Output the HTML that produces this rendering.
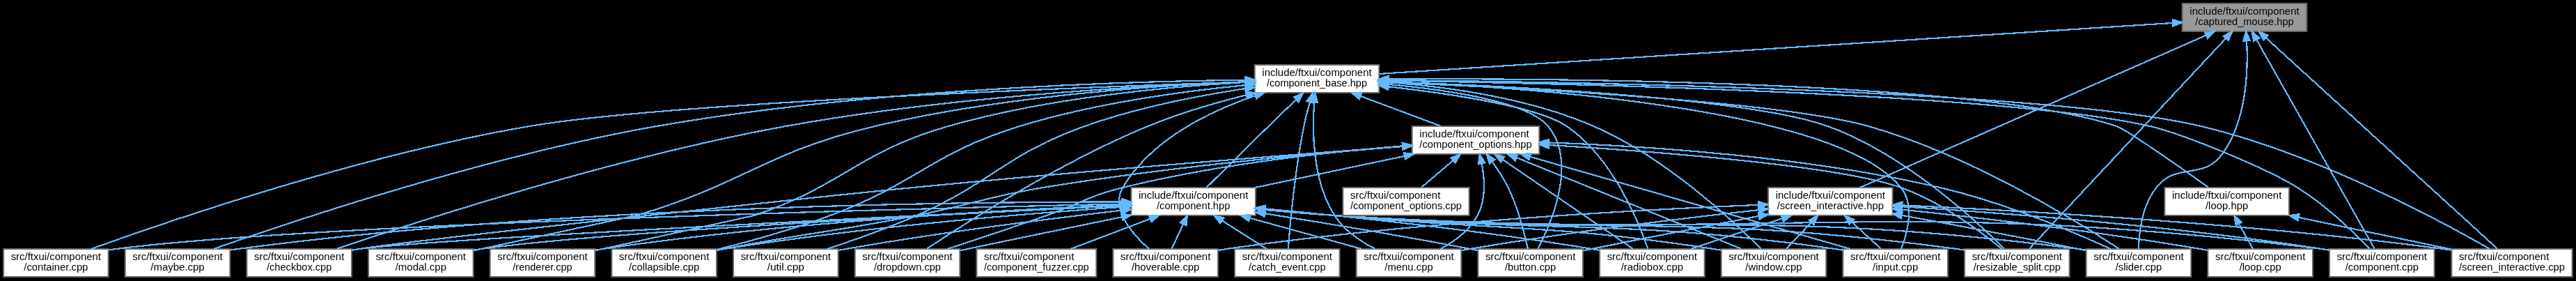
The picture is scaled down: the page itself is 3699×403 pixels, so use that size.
<!DOCTYPE html>
<html><head><meta charset="utf-8"><style>
html,body{margin:0;padding:0;background:#000;width:3699px;height:403px;overflow:hidden}
svg{display:block}
.e{fill:none;stroke:#63b8ff;stroke-width:1.65;shape-rendering:crispEdges}
.a{fill:#63b8ff;stroke:#63b8ff;stroke-width:1.65;shape-rendering:crispEdges}
.n{fill:#fff;stroke:#666;stroke-width:1.5}
.r{fill:#999;stroke:#666;stroke-width:1.5}
text{font-family:"Liberation Sans",sans-serif;font-size:10.7px;fill:#000}
svg{will-change:transform}
</style></head><body>
<svg width="3699" height="403" viewBox="0 0 3699 403">
<rect x="0" y="0" width="3699" height="403" fill="#000"/>
<g transform="translate(-0.333,-0.333) scale(1.333333) translate(4,298)">
<rect x="2346.5" y="-294" width="134" height="30" class="r"/>
<text x="2354.5" y="-282" text-anchor="start" textLength="118" lengthAdjust="spacingAndGlyphs">include/ftxui/component</text>
<text x="2413.5" y="-271" text-anchor="middle" textLength="106" lengthAdjust="spacingAndGlyphs">/captured_mouse.hpp</text>
<rect x="1347.5" y="-228" width="134" height="30" class="n"/>
<text x="1355.5" y="-216" text-anchor="start" textLength="118" lengthAdjust="spacingAndGlyphs">include/ftxui/component</text>
<text x="1414.5" y="-205" text-anchor="middle" textLength="108" lengthAdjust="spacingAndGlyphs">/component_base.hpp</text>
<path d="M2336.24,-273.05C2146.52,-260.9 1660.27,-229.75 1481.63,-218.3" class="e"/>
<polygon points="2336.2,-276.55 2346.4,-273.7 2336.65,-269.57 2336.2,-276.55" class="a"/>
<rect x="2505" y="-30" width="113" height="30" class="n"/>
<text x="2513" y="-18" text-anchor="start" textLength="97" lengthAdjust="spacingAndGlyphs">src/ftxui/component</text>
<text x="2561.5" y="-7" text-anchor="middle" textLength="79" lengthAdjust="spacingAndGlyphs">/component.cpp</text>
<path d="M2426.52,-254.96C2456.41,-202.04 2529.26,-73.08 2553.5,-30.16" class="e"/>
<polygon points="2423.33,-253.49 2421.46,-263.91 2429.42,-256.93 2423.33,-253.49" class="a"/>
<rect x="2112" y="-30" width="113" height="30" class="n"/>
<text x="2120" y="-18" text-anchor="start" textLength="97" lengthAdjust="spacingAndGlyphs">src/ftxui/component</text>
<text x="2168.5" y="-7" text-anchor="middle" textLength="94" lengthAdjust="spacingAndGlyphs">/resizable_split.cpp</text>
<path d="M2393.47,-256.58C2344.98,-204.72 2222.29,-73.52 2181.74,-30.16" class="e"/>
<polygon points="2390.94,-259 2400.33,-263.91 2396.05,-254.22 2390.94,-259" class="a"/>
<rect x="2243" y="-30" width="113" height="30" class="n"/>
<text x="2251" y="-18" text-anchor="start" textLength="97" lengthAdjust="spacingAndGlyphs">src/ftxui/component</text>
<text x="2299.5" y="-7" text-anchor="middle" textLength="50" lengthAdjust="spacingAndGlyphs">/slider.cpp</text>
<path d="M2415.81,-253.99C2417.52,-222.82 2415.98,-168.15 2389.5,-132 2368.59,-103.46 2340.4,-123.79 2318.5,-96 2303.39,-76.83 2299.99,-47.57 2299.4,-30.26" class="e"/>
<polygon points="2412.32,-253.74 2415.1,-263.96 2419.3,-254.24 2412.32,-253.74" class="a"/>
<rect x="2636.5" y="-30" width="130" height="30" class="n"/>
<text x="2644.5" y="-18" text-anchor="start" textLength="97" lengthAdjust="spacingAndGlyphs">src/ftxui/component</text>
<text x="2701.5" y="-7" text-anchor="middle" textLength="114" lengthAdjust="spacingAndGlyphs">/screen_interactive.cpp</text>
<path d="M2436.7,-256.9C2493.46,-205.26 2638.17,-73.61 2685.94,-30.16" class="e"/>
<polygon points="2434.03,-254.6 2428.98,-263.91 2438.74,-259.77 2434.03,-254.6" class="a"/>
<rect x="1900.5" y="-96" width="134" height="30" class="n"/>
<text x="1908.5" y="-84" text-anchor="start" textLength="118" lengthAdjust="spacingAndGlyphs">include/ftxui/component</text>
<text x="1967.5" y="-73" text-anchor="middle" textLength="115" lengthAdjust="spacingAndGlyphs">/screen_interactive.hpp</text>
<path d="M2372.27,-259.88C2284.11,-221.14 2078.89,-130.95 1999.58,-96.1" class="e"/>
<polygon points="2370.86,-263.09 2381.42,-263.9 2373.68,-256.68 2370.86,-263.09" class="a"/>
<rect x="1214.5" y="-96" width="134" height="30" class="n"/>
<text x="1222.5" y="-84" text-anchor="start" textLength="118" lengthAdjust="spacingAndGlyphs">include/ftxui/component</text>
<text x="1281.5" y="-73" text-anchor="middle" textLength="79" lengthAdjust="spacingAndGlyphs">/component.hpp</text>
<path d="M1392.12,-190.61C1382.92,-181.78 1372.17,-171.42 1362.5,-162 1339,-139.1 1311.92,-112.26 1295.78,-96.22" class="e"/>
<polygon points="1389.79,-193.22 1399.43,-197.61 1394.63,-188.17 1389.79,-193.22" class="a"/>
<rect x="1588" y="-30" width="113" height="30" class="n"/>
<text x="1596" y="-18" text-anchor="start" textLength="97" lengthAdjust="spacingAndGlyphs">src/ftxui/component</text>
<text x="1644.5" y="-7" text-anchor="middle" textLength="55" lengthAdjust="spacingAndGlyphs">/button.cpp</text>
<path d="M1491.93,-206.97C1556.76,-200.95 1642.05,-188.18 1663.5,-162 1695.09,-123.44 1667.53,-58.91 1652.6,-30.35" class="e"/>
<polygon points="1491.36,-203.5 1481.71,-207.88 1491.98,-210.48 1491.36,-203.5" class="a"/>
<rect x="1326" y="-30" width="113" height="30" class="n"/>
<text x="1334" y="-18" text-anchor="start" textLength="97" lengthAdjust="spacingAndGlyphs">src/ftxui/component</text>
<text x="1382.5" y="-7" text-anchor="middle" textLength="83" lengthAdjust="spacingAndGlyphs">/catch_event.cpp</text>
<path d="M1407,-188.03C1404.65,-179.83 1402.22,-170.58 1400.5,-162 1390.91,-114.17 1385.61,-56.44 1383.54,-30.21" class="e"/>
<polygon points="1403.67,-189.11 1409.88,-197.7 1410.38,-187.12 1403.67,-189.11" class="a"/>
<rect x="262" y="-30" width="113" height="30" class="n"/>
<text x="270" y="-18" text-anchor="start" textLength="97" lengthAdjust="spacingAndGlyphs">src/ftxui/component</text>
<text x="318.5" y="-7" text-anchor="middle" textLength="70" lengthAdjust="spacingAndGlyphs">/checkbox.cpp</text>
<path d="M1337.43,-209.77C1227,-205.56 1017.75,-193.79 842.5,-162 658.75,-128.66 446.21,-59.71 359,-30.06" class="e"/>
<polygon points="1337.35,-213.27 1347.48,-210.14 1337.61,-206.28 1337.35,-213.27" class="a"/>
<rect x="655" y="-30" width="113" height="30" class="n"/>
<text x="663" y="-18" text-anchor="start" textLength="97" lengthAdjust="spacingAndGlyphs">src/ftxui/component</text>
<text x="711.5" y="-7" text-anchor="middle" textLength="76" lengthAdjust="spacingAndGlyphs">/collapsible.cpp</text>
<path d="M1337.1,-206.12C1271.42,-199.67 1175.26,-186.75 1094.5,-162 998.7,-132.63 984.42,-100.93 890.5,-66 850.43,-51.09 803.89,-38.22 768.31,-29.28" class="e"/>
<polygon points="1337.09,-209.64 1347.38,-207.1 1337.75,-202.67 1337.09,-209.64" class="a"/>
<path d="M1491.65,-211.03C1679.48,-208.13 2156.5,-197.41 2311.5,-162 2348.8,-153.48 2438.03,-116.23 2470.5,-96 2501.21,-76.86 2531.73,-47.33 2548.45,-30.01" class="e"/>
<polygon points="1491.52,-207.53 1481.57,-211.18 1491.63,-214.53 1491.52,-207.53" class="a"/>
<rect x="0" y="-30" width="113" height="30" class="n"/>
<text x="8" y="-18" text-anchor="start" textLength="97" lengthAdjust="spacingAndGlyphs">src/ftxui/component</text>
<text x="56.5" y="-7" text-anchor="middle" textLength="69" lengthAdjust="spacingAndGlyphs">/container.cpp</text>
<path d="M1337.03,-209.61C1156.77,-203.7 713.39,-187.04 566.5,-162 386.06,-131.24 178.39,-60.24 94.54,-30.02" class="e"/>
<polygon points="1337.12,-213.12 1347.23,-209.94 1337.35,-206.12 1337.12,-213.12" class="a"/>
<rect x="917" y="-30" width="113" height="30" class="n"/>
<text x="925" y="-18" text-anchor="start" textLength="97" lengthAdjust="spacingAndGlyphs">src/ftxui/component</text>
<text x="973.5" y="-7" text-anchor="middle" textLength="72" lengthAdjust="spacingAndGlyphs">/dropdown.cpp</text>
<path d="M1338.26,-195.49C1305.14,-187.19 1266.27,-175.91 1232.5,-162 1139.19,-123.57 1037.35,-58.69 994.43,-30.17" class="e"/>
<polygon points="1337.8,-198.98 1348.35,-197.97 1339.47,-192.18 1337.8,-198.98" class="a"/>
<rect x="1195" y="-30" width="113" height="30" class="n"/>
<text x="1203" y="-18" text-anchor="start" textLength="97" lengthAdjust="spacingAndGlyphs">src/ftxui/component</text>
<text x="1251.5" y="-7" text-anchor="middle" textLength="73" lengthAdjust="spacingAndGlyphs">/hoverable.cpp</text>
<path d="M1348.23,-194.84C1299.29,-178.31 1236.09,-147.97 1205.5,-96 1192.01,-73.08 1215.36,-46.25 1233.44,-30.21" class="e"/>
<polygon points="1347.22,-198.19 1357.81,-197.96 1349.39,-191.54 1347.22,-198.19" class="a"/>
<rect x="1981" y="-30" width="113" height="30" class="n"/>
<text x="1989" y="-18" text-anchor="start" textLength="97" lengthAdjust="spacingAndGlyphs">src/ftxui/component</text>
<text x="2037.5" y="-7" text-anchor="middle" textLength="49" lengthAdjust="spacingAndGlyphs">/input.cpp</text>
<path d="M1491.92,-209.84C1644.64,-203.75 1975.79,-180.85 2043.5,-96 2058.44,-77.28 2050.6,-47.6 2043.84,-30.14" class="e"/>
<polygon points="1491.54,-206.35 1481.68,-210.24 1491.81,-213.35 1491.54,-206.35" class="a"/>
<rect x="131" y="-30" width="113" height="30" class="n"/>
<text x="139" y="-18" text-anchor="start" textLength="97" lengthAdjust="spacingAndGlyphs">src/ftxui/component</text>
<text x="187.5" y="-7" text-anchor="middle" textLength="58" lengthAdjust="spacingAndGlyphs">/maybe.cpp</text>
<path d="M1336.93,-211.74C1205.57,-210.14 931.37,-201.81 703.5,-162 521.68,-130.23 312.02,-60.11 226.67,-30.09" class="e"/>
<polygon points="1337.25,-215.24 1347.29,-211.85 1337.33,-208.24 1337.25,-215.24" class="a"/>
<rect x="1457" y="-30" width="113" height="30" class="n"/>
<text x="1465" y="-18" text-anchor="start" textLength="97" lengthAdjust="spacingAndGlyphs">src/ftxui/component</text>
<text x="1513.5" y="-7" text-anchor="middle" textLength="52" lengthAdjust="spacingAndGlyphs">/menu.cpp</text>
<path d="M1411.65,-187.53C1409.33,-156.67 1409.64,-103.16 1433.5,-66 1443.77,-50.01 1461.15,-38.25 1477.1,-30.16" class="e"/>
<polygon points="1408.2,-188.16 1412.59,-197.8 1415.17,-187.52 1408.2,-188.16" class="a"/>
<rect x="393" y="-30" width="113" height="30" class="n"/>
<text x="401" y="-18" text-anchor="start" textLength="97" lengthAdjust="spacingAndGlyphs">src/ftxui/component</text>
<text x="449.5" y="-7" text-anchor="middle" textLength="55" lengthAdjust="spacingAndGlyphs">/modal.cpp</text>
<path d="M1337.29,-209.87C1242.3,-205.89 1076.63,-194.5 938.5,-162 819.81,-134.07 798.52,-100.27 681.5,-66 680.96,-65.84 574.59,-42.93 506.09,-28.18" class="e"/>
<polygon points="1337.26,-213.37 1347.39,-210.28 1337.54,-206.38 1337.26,-213.37" class="a"/>
<rect x="1719" y="-30" width="113" height="30" class="n"/>
<text x="1727" y="-18" text-anchor="start" textLength="97" lengthAdjust="spacingAndGlyphs">src/ftxui/component</text>
<text x="1775.5" y="-7" text-anchor="middle" textLength="67" lengthAdjust="spacingAndGlyphs">/radiobox.cpp</text>
<path d="M1491.86,-204.56C1559.95,-196.77 1652.89,-182.77 1683.5,-162 1732.34,-128.86 1760.49,-60.27 1770.88,-30.41" class="e"/>
<polygon points="1491.13,-201.12 1481.58,-205.71 1491.91,-208.07 1491.13,-201.12" class="a"/>
<rect x="524" y="-30" width="113" height="30" class="n"/>
<text x="532" y="-18" text-anchor="start" textLength="97" lengthAdjust="spacingAndGlyphs">src/ftxui/component</text>
<text x="580.5" y="-7" text-anchor="middle" textLength="64" lengthAdjust="spacingAndGlyphs">/renderer.cpp</text>
<path d="M1337.1,-209.22C1256.06,-204.71 1125.77,-192.89 1017.5,-162 919.2,-133.95 905.43,-98.47 808.5,-66 804.38,-64.62 703.46,-42.65 637.28,-28.3" class="e"/>
<polygon points="1337.06,-212.72 1347.23,-209.76 1337.43,-205.73 1337.06,-212.72" class="a"/>
<path d="M1492.02,-209.74C1622.39,-205.14 1879.59,-192.43 1964.5,-162 2046.09,-132.77 2124.1,-60.76 2154.8,-30.14" class="e"/>
<polygon points="1491.59,-206.25 1481.72,-210.09 1491.83,-213.25 1491.59,-206.25" class="a"/>
<path d="M1491.6,-209.15C1629.62,-203.43 1913.38,-188.79 2008.5,-162 2116.5,-131.59 2231.97,-60.56 2278.4,-30.19" class="e"/>
<polygon points="1491.37,-205.65 1481.52,-209.56 1491.65,-212.65 1491.37,-205.65" class="a"/>
<rect x="786" y="-30" width="113" height="30" class="n"/>
<text x="794" y="-18" text-anchor="start" textLength="97" lengthAdjust="spacingAndGlyphs">src/ftxui/component</text>
<text x="842.5" y="-7" text-anchor="middle" textLength="40" lengthAdjust="spacingAndGlyphs">/util.cpp</text>
<path d="M1337.15,-202.45C1286.95,-194.82 1220.67,-182.03 1164.5,-162 1078.73,-131.42 1066.86,-102.65 983.5,-66 952,-52.15 915.33,-39.24 887.29,-30.01" class="e"/>
<polygon points="1336.88,-205.95 1347.29,-203.96 1337.91,-199.03 1336.88,-205.95" class="a"/>
<rect x="1850" y="-30" width="113" height="30" class="n"/>
<text x="1858" y="-18" text-anchor="start" textLength="97" lengthAdjust="spacingAndGlyphs">src/ftxui/component</text>
<text x="1906.5" y="-7" text-anchor="middle" textLength="61" lengthAdjust="spacingAndGlyphs">/window.cpp</text>
<path d="M1491.65,-209.11C1553.55,-204.45 1641.5,-192.5 1712.5,-162 1789.19,-129.06 1863.3,-59.74 1892.95,-30.01" class="e"/>
<polygon points="1491.3,-205.62 1481.57,-209.82 1491.79,-212.61 1491.3,-205.62" class="a"/>
<rect x="1517" y="-162" width="137" height="30" class="n"/>
<text x="1525" y="-150" text-anchor="start" textLength="118" lengthAdjust="spacingAndGlyphs">include/ftxui/component</text>
<text x="1585.5" y="-139" text-anchor="middle" textLength="121" lengthAdjust="spacingAndGlyphs">/component_options.hpp</text>
<path d="M1461.73,-194.32C1488.95,-184.14 1522.69,-171.51 1548.06,-162.01" class="e"/>
<polygon points="1460.17,-191.17 1452.03,-197.95 1462.62,-197.73 1460.17,-191.17" class="a"/>
<rect x="2327.5" y="-96" width="134" height="30" class="n"/>
<text x="2335.5" y="-84" text-anchor="start" textLength="118" lengthAdjust="spacingAndGlyphs">include/ftxui/component</text>
<text x="2394.5" y="-73" text-anchor="middle" textLength="46" lengthAdjust="spacingAndGlyphs">/loop.hpp</text>
<path d="M1491.65,-212.7C1674.86,-213.53 2131.54,-210.5 2275.5,-162 2286.41,-158.32 2343.7,-118.18 2374.63,-96.2" class="e"/>
<polygon points="1491.57,-209.2 1481.55,-212.65 1491.53,-216.2 1491.57,-209.2" class="a"/>
<path d="M1491.85,-211.49C1688,-209.62 2201.03,-201.05 2366.5,-162 2489.38,-133 2623.65,-60.87 2677.35,-30.18" class="e"/>
<polygon points="1491.59,-207.99 1481.62,-211.58 1491.66,-214.99 1491.59,-207.99" class="a"/>
<path d="M1358.72,-68.04C1418.99,-58.47 1504.74,-44.32 1579.5,-30 1582.22,-29.48 1585,-28.93 1587.81,-28.37" class="e"/>
<polygon points="1357.86,-64.63 1348.53,-69.66 1358.95,-71.55 1357.86,-64.63" class="a"/>
<path d="M1312.59,-60.3C1327.96,-50.56 1346.17,-39.02 1360.15,-30.16" class="e"/>
<polygon points="1310.49,-57.49 1303.92,-65.8 1314.24,-63.4 1310.49,-57.49" class="a"/>
<path d="M1203.91,-76.38C1000.78,-66.8 463.54,-40.78 383.5,-30 380.75,-29.63 377.95,-29.21 375.13,-28.74" class="e"/>
<polygon points="1204.05,-79.89 1214.2,-76.86 1204.37,-72.9 1204.05,-79.89" class="a"/>
<path d="M1203.95,-75.07C1104.52,-68.11 926.98,-53.58 776.5,-30 773.76,-29.57 770.97,-29.1 768.15,-28.6" class="e"/>
<polygon points="1203.99,-78.58 1214.21,-75.78 1204.47,-71.59 1203.99,-78.58" class="a"/>
<path d="M1358.86,-72C1382.77,-69.76 1409.2,-67.53 1433.5,-66 1905.28,-36.31 2027.36,-88 2496.5,-30 2499.25,-29.66 2502.05,-29.26 2504.88,-28.82" class="e"/>
<polygon points="1358.4,-68.53 1348.78,-72.96 1359.06,-75.5 1358.4,-68.53" class="a"/>
<rect x="1048" y="-30" width="129" height="30" class="n"/>
<text x="1056" y="-18" text-anchor="start" textLength="97" lengthAdjust="spacingAndGlyphs">src/ftxui/component</text>
<text x="1112.5" y="-7" text-anchor="middle" textLength="113" lengthAdjust="spacingAndGlyphs">/component_fuzzer.cpp</text>
<path d="M1234.82,-62.32C1207.92,-52.14 1174.58,-39.51 1149.5,-30.01" class="e"/>
<polygon points="1233.82,-65.69 1244.41,-65.95 1236.3,-59.14 1233.82,-65.69" class="a"/>
<path d="M1204.19,-78.37C979.93,-73.39 331.82,-56.99 121.5,-30 118.75,-29.65 115.95,-29.24 113.12,-28.79" class="e"/>
<polygon points="1204.15,-81.87 1214.23,-78.6 1204.31,-74.88 1204.15,-81.87" class="a"/>
<path d="M1204.46,-64.34C1156.66,-54.57 1093.98,-41.68 1038.5,-30 1035.79,-29.43 1033.02,-28.84 1030.21,-28.25" class="e"/>
<polygon points="1203.92,-67.8 1214.42,-66.37 1205.33,-60.94 1203.92,-67.8" class="a"/>
<path d="M1270.57,-56.68C1266.4,-47.79 1261.79,-37.95 1258.14,-30.16" class="e"/>
<polygon points="1267.43,-58.23 1274.84,-65.8 1273.77,-55.26 1267.43,-58.23" class="a"/>
<path d="M1358.89,-72.49C1382.8,-70.28 1409.23,-67.93 1433.5,-66 1672.84,-46.99 1734.74,-63.36 1972.5,-30 1975.24,-29.62 1978.04,-29.18 1980.87,-28.71" class="e"/>
<polygon points="1358.44,-69.02 1348.81,-73.43 1359.09,-75.99 1358.44,-69.02" class="a"/>
<path d="M1204.13,-80.55C1032.22,-80.82 605.73,-76.3 252.5,-30 249.75,-29.64 246.95,-29.22 244.13,-28.77" class="e"/>
<polygon points="1204.35,-84.05 1214.35,-80.52 1204.34,-77.05 1204.35,-84.05" class="a"/>
<path d="M1342.21,-63.25C1379.69,-52.91 1427.22,-39.8 1462.71,-30.01" class="e"/>
<polygon points="1341.12,-59.92 1332.41,-65.95 1342.98,-66.67 1341.12,-59.92" class="a"/>
<path d="M1204.12,-76.41C1036.85,-68.4 646.06,-48.35 514.5,-30 511.76,-29.62 508.96,-29.18 506.13,-28.71" class="e"/>
<polygon points="1204.18,-79.91 1214.33,-76.89 1204.51,-72.92 1204.18,-79.91" class="a"/>
<path d="M1358.87,-73.24C1445.02,-65.19 1588.23,-50.24 1710.5,-30 1713.23,-29.55 1716.03,-29.06 1718.84,-28.54" class="e"/>
<polygon points="1358.29,-69.78 1348.66,-74.19 1358.94,-76.75 1358.29,-69.78" class="a"/>
<path d="M1204.13,-77.25C1084.03,-72.24 845.69,-59.29 645.5,-30 642.76,-29.6 639.96,-29.15 637.14,-28.67" class="e"/>
<polygon points="1204.19,-80.76 1214.33,-77.67 1204.48,-73.77 1204.19,-80.76" class="a"/>
<path d="M1358.88,-72.3C1382.79,-70.07 1409.22,-67.77 1433.5,-66 1730.92,-44.32 1807.92,-69.52 2103.5,-30 2106.25,-29.63 2109.05,-29.21 2111.87,-28.75" class="e"/>
<polygon points="1358.43,-68.82 1348.8,-73.24 1359.08,-75.79 1358.43,-68.82" class="a"/>
<path d="M1358.87,-72.17C1382.78,-69.94 1409.21,-67.66 1433.5,-66 1789.03,-41.65 1881.08,-75.68 2234.5,-30 2237.25,-29.64 2240.05,-29.23 2242.88,-28.78" class="e"/>
<polygon points="1358.42,-68.69 1348.79,-73.12 1359.07,-75.66 1358.42,-68.69" class="a"/>
<path d="M1204.43,-71.5C1128.62,-62.72 1009.72,-47.81 907.5,-30 904.77,-29.52 901.98,-29.01 899.17,-28.48" class="e"/>
<polygon points="1204.04,-74.98 1214.37,-72.65 1204.84,-68.03 1204.04,-74.98" class="a"/>
<path d="M1358.92,-72.81C1382.83,-70.61 1409.25,-68.19 1433.5,-66 1614.8,-49.65 1661.51,-57.22 1841.5,-30 1844.24,-29.59 1847.04,-29.13 1849.86,-28.63" class="e"/>
<polygon points="1358.47,-69.34 1348.84,-73.74 1359.12,-76.31 1358.47,-69.34" class="a"/>
<path d="M1508.76,-129.84C1459.23,-119.42 1395.44,-105.99 1348.06,-96.01" class="e"/>
<polygon points="1508.28,-133.32 1518.79,-131.95 1509.72,-126.47 1508.28,-133.32" class="a"/>
<path d="M1603.34,-123.78C1609.41,-115.43 1615.84,-105.63 1620.5,-96 1631.12,-74.08 1638.14,-46.47 1641.71,-30.09" class="e"/>
<polygon points="1600.45,-121.8 1597.22,-131.89 1606.04,-126.01 1600.45,-121.8" class="a"/>
<path d="M1506.65,-140.2C1390.96,-131.53 1168.45,-114.25 979.5,-96 913.18,-89.59 449.26,-40.69 383.5,-30 380.77,-29.56 377.97,-29.07 375.16,-28.56" class="e"/>
<polygon points="1506.6,-143.71 1516.83,-140.96 1507.12,-136.73 1506.6,-143.71" class="a"/>
<path d="M1506.71,-140.21C1413.76,-132.77 1254.76,-118.11 1119.5,-96 1058.41,-86.02 1044.23,-77.97 983.5,-66 891.88,-47.94 868.16,-47.83 776.5,-30 773.78,-29.47 771,-28.92 768.19,-28.35" class="e"/>
<polygon points="1506.63,-143.72 1516.88,-141.02 1507.19,-136.74 1506.63,-143.72" class="a"/>
<path d="M1506.53,-140.7C1429.02,-134.31 1307.85,-121.13 1205.5,-96 1167.81,-86.75 1160.13,-78.8 1123.5,-66 1087.61,-53.46 1046.65,-39.85 1016.61,-30" class="e"/>
<polygon points="1506.46,-144.2 1516.7,-141.52 1507.02,-137.22 1506.46,-144.2" class="a"/>
<path d="M1643.96,-129.21C1677.73,-119.51 1721.01,-107.07 1759.5,-96 1839.86,-72.89 1933.29,-46 1988.79,-30.02" class="e"/>
<polygon points="1642.9,-125.87 1634.25,-132 1644.83,-132.6 1642.9,-125.87" class="a"/>
<path d="M1592.07,-121.7C1595.2,-105.06 1596.54,-83.01 1587.5,-66 1578.99,-49.98 1562.8,-38.16 1547.73,-30.05" class="e"/>
<polygon points="1588.59,-121.23 1589.85,-131.75 1595.43,-122.74 1588.59,-121.23" class="a"/>
<path d="M1614.46,-126.19C1653.18,-99.7 1720.87,-53.38 1754.83,-30.14" class="e"/>
<polygon points="1612.47,-123.3 1606.2,-131.84 1616.42,-129.08 1612.47,-123.3" class="a"/>
<path d="M1664.44,-141.74C1776.48,-134.96 1975.56,-119.96 2043.5,-96 2086.27,-80.92 2129.31,-48.76 2152.04,-30.14" class="e"/>
<polygon points="1663.98,-138.26 1654.21,-142.35 1664.4,-145.25 1663.98,-138.26" class="a"/>
<path d="M1664.61,-144.37C1764.06,-140.89 1939.43,-130 2085.5,-96 2153.3,-80.22 2228.71,-48.48 2269.44,-30.07" class="e"/>
<polygon points="1664.22,-140.88 1654.35,-144.71 1664.46,-147.87 1664.22,-140.88" class="a"/>
<path d="M1629.64,-128.12C1694.09,-102.02 1812.67,-54 1871.5,-30.17" class="e"/>
<polygon points="1628.11,-124.97 1620.16,-131.96 1630.74,-131.45 1628.11,-124.97" class="a"/>
<rect x="1442.5" y="-96" width="136" height="30" class="n"/>
<text x="1450.5" y="-84" text-anchor="start" textLength="97" lengthAdjust="spacingAndGlyphs">src/ftxui/component</text>
<text x="1510.5" y="-73" text-anchor="middle" textLength="120" lengthAdjust="spacingAndGlyphs">/component_options.cpp</text>
<path d="M1561.13,-125.2C1549.99,-115.7 1537.09,-104.69 1527.1,-96.16" class="e"/>
<polygon points="1558.98,-127.97 1568.86,-131.8 1563.52,-122.64 1558.98,-127.97" class="a"/>
<rect x="2374" y="-30" width="113" height="30" class="n"/>
<text x="2382" y="-18" text-anchor="start" textLength="97" lengthAdjust="spacingAndGlyphs">src/ftxui/component</text>
<text x="2430.5" y="-7" text-anchor="middle" textLength="45" lengthAdjust="spacingAndGlyphs">/loop.cpp</text>
<path d="M2407.46,-56.96C2412.5,-48 2418.11,-38.03 2422.53,-30.16" class="e"/>
<polygon points="2404.34,-55.36 2402.49,-65.8 2410.44,-58.8 2404.34,-55.36" class="a"/>
<path d="M2471.82,-63.88C2522.6,-53.3 2588.28,-39.6 2636.39,-29.57" class="e"/>
<polygon points="2470.95,-60.49 2461.87,-65.95 2472.38,-67.34 2470.95,-60.49" class="a"/>
<path d="M1890.36,-65.34C1839.29,-55.55 1770.84,-42.27 1710.5,-30 1707.4,-29.37 1704.22,-28.72 1701.01,-28.05" class="e"/>
<polygon points="1889.86,-68.81 1900.34,-67.25 1891.18,-61.94 1889.86,-68.81" class="a"/>
<path d="M2044.65,-75.57C2147.98,-68.98 2336.8,-54.66 2496.5,-30 2499.24,-29.58 2502.03,-29.11 2504.85,-28.61" class="e"/>
<polygon points="2044.38,-72.08 2034.62,-76.2 2044.82,-79.06 2044.38,-72.08" class="a"/>
<path d="M1890.27,-77.36C1768.14,-72.45 1523.17,-59.59 1317.5,-30 1314.49,-29.57 1311.4,-29.08 1308.3,-28.55" class="e"/>
<polygon points="1890.15,-80.86 1900.28,-77.76 1890.42,-73.87 1890.15,-80.86" class="a"/>
<path d="M1990.55,-58.92C2000.87,-49.49 2012.77,-38.61 2022.01,-30.16" class="e"/>
<polygon points="1988.05,-56.47 1983.04,-65.8 1992.78,-61.63 1988.05,-56.47" class="a"/>
<path d="M1890.02,-71.88C1811.51,-63.22 1686.67,-48.24 1579.5,-30 1576.5,-29.49 1573.42,-28.94 1570.33,-28.36" class="e"/>
<polygon points="1889.99,-75.4 1900.31,-73.01 1890.75,-68.44 1889.99,-75.4" class="a"/>
<path d="M1915.67,-62.72C1884.91,-52.47 1846.4,-39.63 1817.54,-30.01" class="e"/>
<polygon points="1914.77,-66.11 1925.36,-65.95 1916.98,-59.47 1914.77,-66.11" class="a"/>
<path d="M2044.61,-66.13C2097.99,-56.39 2170.65,-42.85 2234.5,-30 2237.22,-29.45 2239.99,-28.89 2242.8,-28.31" class="e"/>
<polygon points="2043.74,-62.73 2034.53,-67.97 2045,-69.62 2043.74,-62.73" class="a"/>
<path d="M1946.88,-58.37C1938.01,-49.06 1927.89,-38.44 1920,-30.16" class="e"/>
<polygon points="1944.53,-60.97 1953.96,-65.8 1949.6,-56.14 1944.53,-60.97" class="a"/>
<path d="M2044.7,-72.32C2125.1,-63.85 2254.56,-48.88 2365.5,-30 2368.23,-29.54 2371.02,-29.03 2373.84,-28.51" class="e"/>
<polygon points="2044.24,-68.85 2034.66,-73.37 2044.97,-75.81 2044.24,-68.85" class="a"/>
<path d="M2044.86,-76.94C2168.43,-71.41 2417.8,-57.69 2627.5,-30 2630.35,-29.62 2633.26,-29.21 2636.19,-28.76" class="e"/>
<polygon points="2044.58,-73.44 2034.74,-77.38 2044.88,-80.44 2044.58,-73.44" class="a"/>
</g>
</svg>
</body></html>
